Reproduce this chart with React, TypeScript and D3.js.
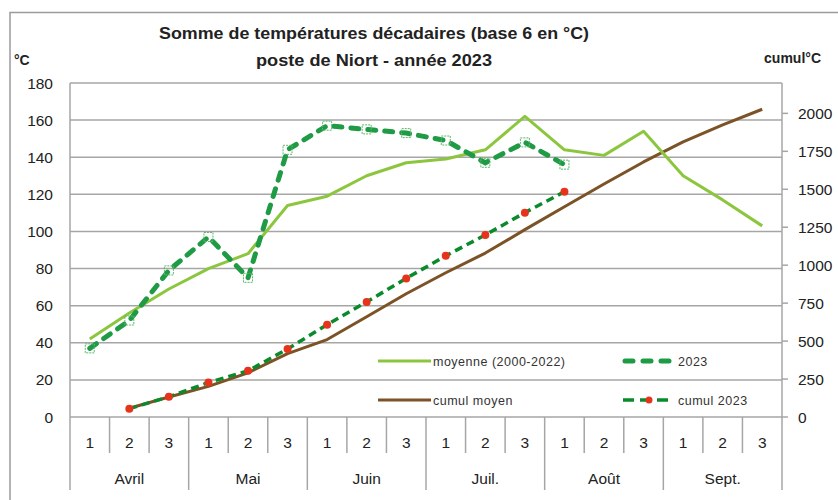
import React from "react";
import * as d3 from "d3";

const decades = ["1", "2", "3", "1", "2", "3", "1", "2", "3", "1", "2", "3", "1", "2", "3", "1", "2", "3"];
const months = ["Avril", "Mai", "Juin", "Juil.", "Août", "Sept."];

// degrés par décade (axe gauche)
const moyenne = [42, 56, 69, 80, 88, 114, 119, 130, 137, 139, 144, 162, 144, 141, 154, 130, 117, 103];
const annee2023 = [37, 52, 79, 97, 75, 144, 157, 155, 153, 149, 137, 148, 136];

// cumuls (axe droit), null = pas de valeur
const cumulMoyen = [null, 58, 132, 202, 291, 418, 510, 660, 812, 950, 1080, 1234, 1385, 1535, 1680, 1812, 1924, 2027];
const cumul2023 = [null, 55, 133, 227, 304, 448, 608, 758, 913, 1062, 1199, 1346, 1484];

const leftTicks = [0, 20, 40, 60, 80, 100, 120, 140, 160, 180];
const rightTicks = [0, 250, 500, 750, 1000, 1250, 1500, 1750, 2000];

const C_MOY = "#8cc63f";
const C_2023 = "#1f9a45";
const C_CUM = "#0b8a2c";
const C_BROWN = "#7b5326";
const C_RED = "#e5341b";
const GRID = "#a6a6a6";
const FONT = "'Liberation Sans', Arial, sans-serif";

export default function App() {
  const W = 838;
  const H = 500;
  const left = 70;
  const right = 782;
  const top = 83;
  const bottom = 417;

  const x = d3.scaleBand<number>().domain(d3.range(decades.length)).range([left, right]);
  const cx = (i: number) => (x(i) as number) + x.bandwidth() / 2;
  const y = d3.scaleLinear().domain([0, 180]).range([bottom, top]);
  const y2 = d3.scaleLinear().domain([0, 2200]).range([bottom, top]);

  const lineL = d3
    .line<number>()
    .x((_, i) => cx(i))
    .y((d) => y(d));
  const lineR = d3
    .line<number | null>()
    .defined((d) => d != null)
    .x((_, i) => cx(i))
    .y((d) => y2(d as number));

  return (
    <svg width={W} height={H} style={{ position: "absolute", left: 0, top: 0, background: "#fff" }}>
      <rect x={10} y={12.5} width={W} height={H} fill="#fff" stroke="#9a9a9a" strokeWidth={1.5} />

      <text
        x={374}
        y={39}
        textAnchor="middle"
        fontFamily={FONT}
        fontWeight="bold"
        fontSize={16.5}
        fill="#222"
        textLength={430}
        lengthAdjust="spacingAndGlyphs"
      >
        Somme de températures décadaires (base 6 en °C)
      </text>
      <text
        x={374}
        y={66}
        textAnchor="middle"
        fontFamily={FONT}
        fontWeight="bold"
        fontSize={16.5}
        fill="#222"
        textLength={236}
        lengthAdjust="spacingAndGlyphs"
      >
        poste de Niort - année 2023
      </text>
      <text x={14} y={65} fontFamily={FONT} fontWeight="bold" fontSize={14} fill="#222">
        °C
      </text>
      <text x={821} y={63} textAnchor="end" fontFamily={FONT} fontWeight="bold" fontSize={14} fill="#222">
        cumul°C
      </text>

      {leftTicks.map((t) => (
        <g key={"l" + t}>
          <line x1={left} x2={right} y1={y(t)} y2={y(t)} stroke={GRID} strokeWidth={1.5} />
          <text x={53} y={y(t) + 5.5} textAnchor="end" fontFamily={FONT} fontSize={15.5} fill="#222">
            {t}
          </text>
        </g>
      ))}
      {rightTicks.map((t) => (
        <g key={"r" + t}>
          <line x1={right} x2={right + 6} y1={y2(t)} y2={y2(t)} stroke={GRID} strokeWidth={1.5} />
          <text x={798} y={y2(t) + 5.5} fontFamily={FONT} fontSize={15.5} fill="#222">
            {t}
          </text>
        </g>
      ))}

      <line x1={left} x2={left} y1={top} y2={490} stroke={GRID} strokeWidth={1.5} />
      <line x1={right} x2={right} y1={top} y2={490} stroke={GRID} strokeWidth={1.5} />

      {decades.map((d, i) => (
        <g key={"d" + i}>
          {i > 0 && (
            <line
              x1={x(i) as number}
              x2={x(i) as number}
              y1={bottom}
              y2={i % 3 === 0 ? 490 : 453}
              stroke={GRID}
              strokeWidth={1.5}
            />
          )}
          <text x={cx(i)} y={448} textAnchor="middle" fontFamily={FONT} fontSize={15.5} fill="#222">
            {d}
          </text>
        </g>
      ))}
      {months.map((m, k) => (
        <text key={m} x={cx(k * 3 + 1)} y={484} textAnchor="middle" fontFamily={FONT} fontSize={15.5} fill="#222">
          {m}
        </text>
      ))}

      {/* cumul moyen */}
      <path d={lineR(cumulMoyen) || ""} fill="none" stroke={C_BROWN} strokeWidth={3} strokeLinejoin="round" />
      {/* cumul 2023 */}
      <path d={lineR(cumul2023) || ""} fill="none" stroke={C_CUM} strokeWidth={3.5} strokeDasharray="8 5" />
      {cumul2023.map((v, i) =>
        v == null ? null : <circle key={"c" + i} cx={cx(i)} cy={y2(v)} r={4} fill={C_RED} />
      )}

      {/* moyenne */}
      <path d={lineL(moyenne) || ""} fill="none" stroke={C_MOY} strokeWidth={3} strokeLinejoin="round" />
      {/* 2023 */}
      <path
        d={lineL(annee2023) || ""}
        fill="none"
        stroke={C_2023}
        strokeWidth={5}
        strokeDasharray="8 9"
        strokeLinecap="round"
      />
      {annee2023.map((v, i) => (
        <rect
          key={"m" + i}
          x={cx(i) - 4.5}
          y={y(v) - 4.5}
          width={9}
          height={9}
          fill="none"
          stroke="#5cb86a"
          strokeWidth={1}
          strokeDasharray="2 1"
        />
      ))}

      {/* légende */}
      <g fontFamily={FONT} fontSize={12.5} fill="#333" letterSpacing={0.5}>
        <line x1={378} x2={431} y1={361} y2={361} stroke={C_MOY} strokeWidth={3} />
        <text x={433} y={365.5}>moyenne (2000-2022)</text>
        <line
          x1={625}
          x2={672}
          y1={361}
          y2={361}
          stroke={C_2023}
          strokeWidth={5}
          strokeDasharray="8 10"
          strokeLinecap="round"
        />
        <text x={678} y={365.5}>2023</text>

        <line x1={378} x2={431} y1={400} y2={400} stroke={C_BROWN} strokeWidth={3} />
        <text x={433} y={404.5}>cumul moyen</text>
        <line x1={623} x2={669} y1={400} y2={400} stroke={C_CUM} strokeWidth={3.5} strokeDasharray="11 6" />
        <circle cx={649} cy={400} r={3.5} fill={C_RED} />
        <text x={678} y={404.5}>cumul 2023</text>
      </g>
    </svg>
  );
}
